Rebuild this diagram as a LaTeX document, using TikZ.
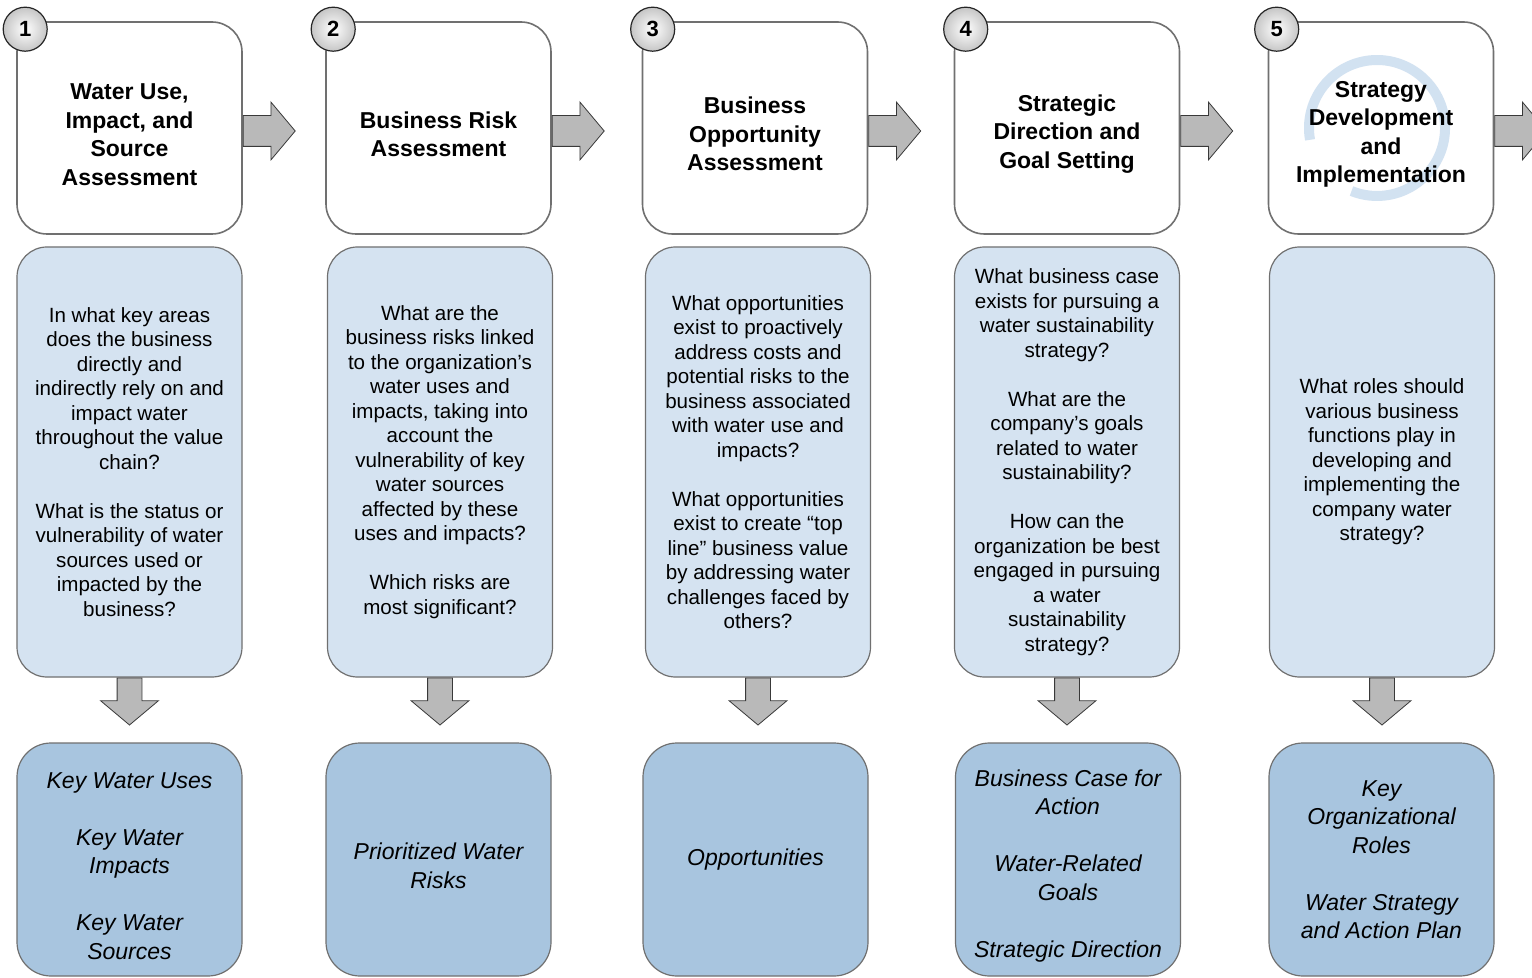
\documentclass[tikz,border=0pt]{standalone}
\usepackage{fontspec}
\setmainfont{Liberation Sans}
\usetikzlibrary{shapes.arrows}
\definecolor{qblue}{RGB}{213,227,241}
\definecolor{oblue}{RGB}{168,197,223}
\definecolor{edgegray}{RGB}{112,112,112}
\definecolor{arrowgray}{RGB}{185,185,185}
\definecolor{swirlblue}{RGB}{210,226,241}
\newcommand{\headpad}{\rule{0pt}{14.4pt}}

\begin{document}
\begin{tikzpicture}[x=0.5pt,y=-0.5pt,
    stagebox/.style={draw=edgegray,line width=0.8pt,rounded corners=15pt,
      minimum width=112.5pt,minimum height=106pt,align=center,inner sep=0pt,
      font={\fontsize{11.5}{14.25}\selectfont\bfseries}},
    questbox/.style={draw=edgegray,fill=qblue,line width=0.6pt,rounded corners=15pt,
      minimum width=112.5pt,minimum height=215pt,align=center,inner sep=0pt,
      font={\fontsize{10.3}{12.25}\selectfont}},
    outbox/.style={draw=edgegray,fill=oblue,line width=0.6pt,rounded corners=17pt,
      minimum width=112.5pt,minimum height=116.5pt,align=center,inner sep=0pt,
      font={\fontsize{11.5}{14.25}\selectfont\itshape}},
    numball/.style={circle,draw=gray!30!black,line width=0.6pt,inner color=white,
      outer color=gray!45,minimum size=22pt,inner sep=0pt,
      font={\fontsize{11}{13}\selectfont\bfseries}},
    rarrow/.style={single arrow,draw=gray!45!black,line width=0.4pt,fill=arrowgray,
      minimum height=26pt,inner xsep=0pt,inner ysep=7.5pt,
      single arrow head extend=6.75pt,single arrow tip angle=100,anchor=tail},
    darrow/.style={rarrow,shape border rotate=270,minimum height=23.5pt,
      inner sep=6pt,single arrow head extend=8.25pt},
    swirl/.style={swirlblue,line width=5pt}]
  \useasboundingbox (0,0) rectangle (1532,978);
  \clip (0,0) rectangle (1532,978);
  \fill[white] (0,0) rectangle (1532,978);

  % the cycle mark behind stage 5
  \coordinate (sw) at (1377,128);
  \draw[swirl] (sw) ++(190:34pt) arc[start angle=190,end angle=-112,radius=34pt];

  % stages
  \node[stagebox] (t1) at (129.5,128) {\headpad Water Use,\\Impact, and\\Source\\Assessment};
  \node[stagebox] (t2) at (438.5,128) {\headpad Business Risk\\Assessment};
  \node[stagebox] (t3) at (755,128) {\headpad Business\\Opportunity\\Assessment};
  \node[stagebox] (t4) at (1067,128) {\headpad Strategic\\Direction and\\Goal Setting};
  \node[stagebox] (t5) at (1381,128) {\headpad Strategy\\Development\\and\\Implementation};

  \node[numball,xshift=4.5pt,yshift=-4pt] (n1) at (t1.north west) {1};
  \node[numball,xshift=4pt,yshift=-4pt] (n2) at (t2.north west) {2};
  \node[numball,xshift=5.5pt,yshift=-4pt] (n3) at (t3.north west) {3};
  \node[numball,xshift=6pt,yshift=-4pt] (n4) at (t4.north west) {4};
  \node[numball,xshift=4.5pt,yshift=-4pt] (n5) at (t5.north west) {5};

  % key questions
  \node[questbox] (m1) at (129.5,462) {In what key areas\\does the business\\directly and\\indirectly rely on and\\impact water\\throughout the value\\chain?\\[\baselineskip]What is the status or\\vulnerability of water\\sources used or\\impacted by the\\business?};
  \node[questbox] (m2) at (440,462) {What are the\\business risks linked\\to the organization's\\water uses and\\impacts, taking into\\account the\\vulnerability of key\\water sources\\affected by these\\uses and impacts?\\[\baselineskip]Which risks are\\most significant?};
  \node[questbox] (m3) at (758,462) {What opportunities\\exist to proactively\\address costs and\\potential risks to the\\business associated\\with water use and\\impacts?\\[\baselineskip]What opportunities\\exist to create ``top\\line'' business value\\by addressing water\\challenges faced by\\others?};
  \node[questbox] (m4) at (1067,462) {What business case\\exists for pursuing a\\water sustainability\\strategy?\\[\baselineskip]What are the\\company's goals\\related to water\\sustainability?\\[\baselineskip]How can the\\organization be best\\engaged in pursuing\\a water\\sustainability\\strategy?};
  \node[questbox] (m5) at (1382,462) {What roles should\\various business\\functions play in\\developing and\\implementing the\\company water\\strategy?};

  % outputs
  \node[outbox] (b1) at (129.5,859.5) {\headpad Key Water Uses\\[\baselineskip]Key Water\\Impacts\\[\baselineskip]Key Water\\Sources};
  \node[outbox] (b2) at (438.5,859.5) {\headpad Prioritized Water\\Risks};
  \node[outbox] (b3) at (755.5,859.5) {Opportunities};
  \node[outbox] (b4) at (1068,859.5) {\headpad Business Case for\\Action\\[\baselineskip]Water-Related\\Goals\\[\baselineskip]Strategic Direction};
  \node[outbox] (b5) at (1381.5,859.5) {Key\\Organizational\\Roles\\[\baselineskip]Water Strategy\\and Action Plan};

  % arrows
  \node[rarrow,yshift=-1.5pt] (r1) at (t1.east) {};
  \node[rarrow,yshift=-1.5pt] (r2) at (t2.east) {};
  \node[rarrow,yshift=-1.5pt] (r3) at (t3.east) {};
  \node[rarrow,yshift=-1.5pt] (r4) at (t4.east) {};
  \node[rarrow,yshift=-1.5pt] (r5) at (t5.east) {};

  \node[darrow] (d1) at (m1.south) {};
  \node[darrow] (d2) at (m2.south) {};
  \node[darrow] (d3) at (m3.south) {};
  \node[darrow] (d4) at (m4.south) {};
  \node[darrow] (d5) at (m5.south) {};
\end{tikzpicture}
\end{document}
